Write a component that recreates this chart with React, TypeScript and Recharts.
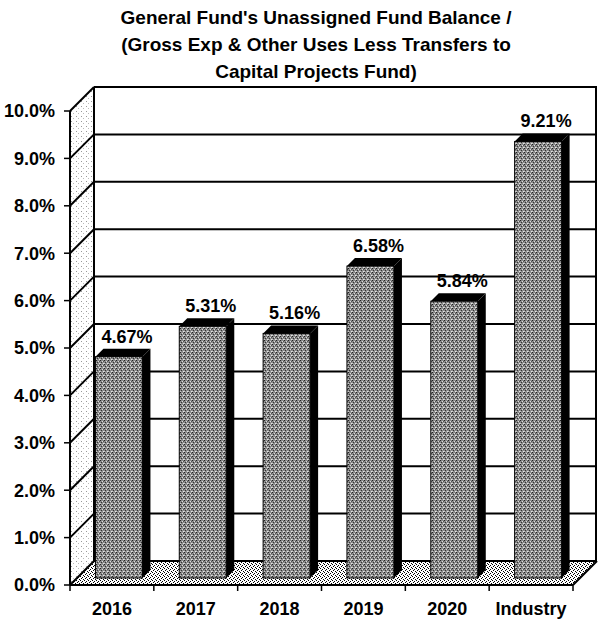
import { BarChart, Bar, XAxis, YAxis, ReferenceArea, LabelList } from "recharts";

const categories = ["2016", "2017", "2018", "2019", "2020", "Industry"];
const balancePct = [4.67, 5.31, 5.16, 6.58, 5.84, 9.21];
const yTicks = [0, 1, 2, 3, 4, 5, 6, 7, 8, 9, 10];
const titleLines = [
  "General Fund's Unassigned Fund Balance /",
  "(Gross Exp & Other Uses Less Transfers to",
  "Capital Projects Fund)",
];

const data = categories.map((name, i) => ({ name, value: balancePct[i] }));

const FONT = "'Liberation Sans', Arial, sans-serif";
const WALL = 24; // depth of the back wall
const BAR_OFF = 7; // bars sit a little behind the front plane
const BAR_DEPTH = 8;

// back wall, left wall, floor and gridlines, drawn from the plot area of a 0..10 reference area
function Walls(props: any) {
  const { x, y, width, height } = props;
  const left = x;
  const right = x + width;
  const top = y;
  const bottom = y + height;
  const d = WALL;
  const max = yTicks[yTicks.length - 1];
  const n = categories.length;
  return (
    <g>
      <defs>
        <pattern id="barDither" width="4" height="4" patternUnits="userSpaceOnUse">
          <rect width="4" height="4" fill="#8a8a8a" />
          <rect x="0" y="0" width="1" height="1" fill="#222" />
          <rect x="2" y="1" width="1" height="1" fill="#ddd" />
          <rect x="1" y="2" width="1" height="1" fill="#333" />
          <rect x="3" y="3" width="1" height="1" fill="#e5e5e5" />
          <rect x="3" y="1" width="1" height="1" fill="#555" />
          <rect x="0" y="3" width="1" height="1" fill="#c8c8c8" />
        </pattern>
        <pattern id="floorDither" width="4" height="4" patternUnits="userSpaceOnUse">
          <rect width="4" height="4" fill="#fff" />
          <rect width="1" height="1" fill="#000" />
          <rect x="2" y="1" width="1" height="1" fill="#000" />
          <rect x="1" y="2" width="1" height="1" fill="#000" />
          <rect x="3" y="3" width="1" height="1" fill="#000" />
        </pattern>
        <pattern id="wallDither" width="5" height="5" patternUnits="userSpaceOnUse">
          <rect width="5" height="5" fill="#fff" />
          <rect x="1" y="1" width="1" height="1" fill="#999" />
          <rect x="3" y="3" width="1" height="1" fill="#bbb" />
        </pattern>
      </defs>
      <polygon
        points={`${left},${bottom} ${right},${bottom} ${right + d},${bottom - d} ${left + d},${bottom - d}`}
        fill="url(#floorDither)"
      />
      <polygon
        points={`${left},${bottom} ${left},${top} ${left + d},${top - d} ${left + d},${bottom - d}`}
        fill="url(#wallDither)"
      />
      {yTicks.map((t) => {
        const yy = bottom - (height * t) / max;
        return (
          <g key={t}>
            <line x1={left + d} y1={yy - d} x2={right + d} y2={yy - d} stroke="#000" strokeWidth={2} />
            <line x1={left} y1={yy} x2={left + d} y2={yy - d} stroke="#000" strokeWidth={2} />
          </g>
        );
      })}
      <line x1={left + d} y1={top - d} x2={left + d} y2={bottom - d} stroke="#000" strokeWidth={2} />
      <line x1={right + d - 1} y1={top - d} x2={right + d - 1} y2={bottom - d} stroke="#000" strokeWidth={2} />
      <line x1={right} y1={bottom} x2={right + d} y2={bottom - d} stroke="#000" strokeWidth={2} />
      {Array.from({ length: n + 1 }, (_, i) => (
        <line
          key={i}
          x1={left + (width * i) / n}
          y1={bottom}
          x2={left + (width * i) / n}
          y2={bottom + 6}
          stroke="#000"
          strokeWidth={1.5}
        />
      ))}
    </g>
  );
}

function Bar3D(props: any) {
  const { x, y, width, height } = props;
  if (!height) return null;
  const fx = x + BAR_OFF;
  const fy = y - BAR_OFF;
  const b = BAR_DEPTH;
  return (
    <g>
      <rect x={fx} y={fy} width={width} height={height} fill="url(#barDither)" stroke="#000" strokeWidth={1} />
      <polygon
        points={`${fx},${fy} ${fx + width},${fy} ${fx + width + b},${fy - b} ${fx + b},${fy - b}`}
        fill="#000"
      />
      <polygon
        points={`${fx + width},${fy} ${fx + width + b},${fy - b} ${fx + width + b},${fy + height - b} ${fx + width},${fy + height}`}
        fill="#000"
      />
    </g>
  );
}

function ValueLabel(props: any) {
  const { x, y, width, value } = props;
  return (
    <text
      x={x + BAR_OFF + width / 2 + 8}
      y={y - BAR_OFF - 14}
      textAnchor="middle"
      fontFamily={FONT}
      fontWeight="bold"
      fontSize={18}
      fill="#000"
    >
      {Number(value).toFixed(2)}%
    </text>
  );
}

export default function App() {
  return (
    <div style={{ position: "absolute", left: 0, top: 0, width: 600, height: 623, background: "#fff" }}>
      <div
        style={{
          position: "absolute",
          left: 16,
          top: 4,
          width: 600,
          textAlign: "center",
          fontFamily: FONT,
          fontWeight: "bold",
          fontSize: 19,
          lineHeight: "27px",
          color: "#000",
        }}
      >
        {titleLines.map((t) => (
          <div key={t}>{t}</div>
        ))}
      </div>
      <BarChart
        width={600}
        height={623}
        data={data}
        margin={{ top: 111, right: 27, bottom: 8, left: 8 }}
        barCategoryGap="22%"
      >
        <ReferenceArea y1={0} y2={10} shape={<Walls />} />
        <XAxis
          dataKey="name"
          height={30}
          axisLine={{ stroke: "#000", strokeWidth: 2 }}
          tickLine={false}
          tickSize={6}
          tickMargin={11}
          tick={{ fill: "#000", fontSize: 18, fontWeight: "bold", fontFamily: FONT }}
        />
        <YAxis
          type="number"
          domain={[0, 10]}
          ticks={yTicks}
          interval={0}
          width={62}
          axisLine={{ stroke: "#000", strokeWidth: 2 }}
          tickLine={{ stroke: "#000", strokeWidth: 1.5 }}
          tickSize={6}
          tickMargin={9}
          tickFormatter={(v: number) => `${v.toFixed(1)}%`}
          tick={{ fill: "#000", fontSize: 18, fontWeight: "bold", fontFamily: FONT }}
        />
        <Bar dataKey="value" shape={<Bar3D />} isAnimationActive={false}>
          <LabelList dataKey="value" content={<ValueLabel />} />
        </Bar>
      </BarChart>
    </div>
  );
}
